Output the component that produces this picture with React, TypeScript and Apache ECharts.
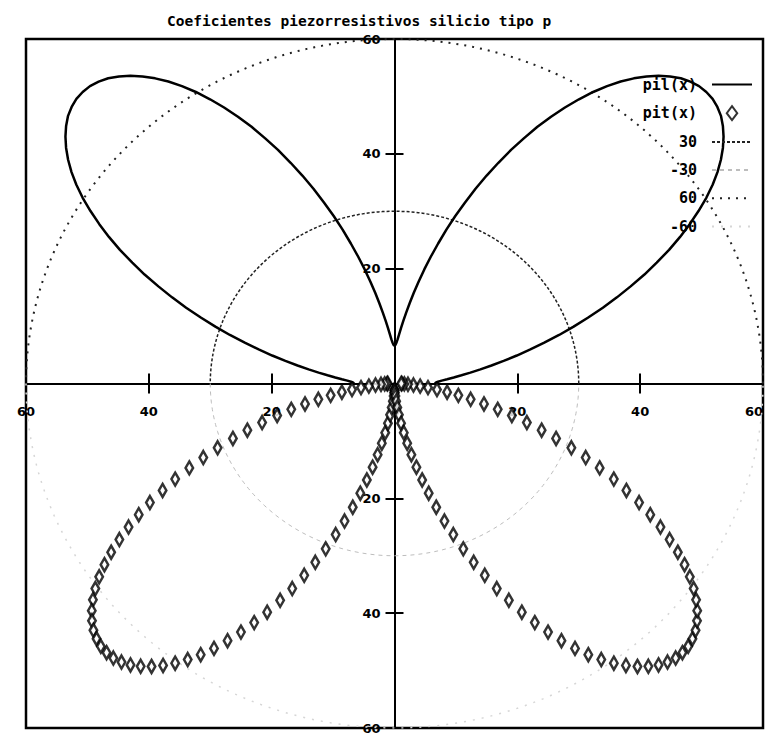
import React, { useEffect, useRef } from 'react';
import * as echarts from 'echarts';

const TITLE = 'Coeficientes piezorresistivos silicio tipo p';

// Angle x runs from 0° to 180° in steps of 1.25° (145 samples).
const ANGLE_STEP_DEG = 1.25;

// Longitudinal piezoresistive coefficient pil(x)
const PIL = [
  6.6, 6.7, 7.1, 7.7, 8.6, 9.7, 11.0, 12.5, 14.2, 16.1, 18.2, 20.5, 22.9, 25.4, 28.1, 30.8, 33.5, 36.4, 39.2,
  42.0, 44.9, 47.6, 50.4, 53.0, 55.5, 57.9, 60.2, 62.3, 64.2, 65.9, 67.4, 68.7, 69.8, 70.7, 71.3, 71.7, 71.8,
  71.7, 71.3, 70.7, 69.8, 68.7, 67.4, 65.9, 64.2, 62.3, 60.2, 57.9, 55.5, 53.0, 50.4, 47.6, 44.9, 42.0, 39.2,
  36.4, 33.5, 30.8, 28.1, 25.4, 22.9, 20.5, 18.2, 16.1, 14.2, 12.5, 11.0, 9.7, 8.6, 7.7, 7.1, 6.7, 6.6,
  6.7, 7.1, 7.7, 8.6, 9.7, 11.0, 12.5, 14.2, 16.1, 18.2, 20.5, 22.9, 25.4, 28.1, 30.8, 33.5, 36.4, 39.2,
  42.0, 44.9, 47.6, 50.4, 53.0, 55.5, 57.9, 60.2, 62.3, 64.2, 65.9, 67.4, 68.7, 69.8, 70.7, 71.3, 71.7, 71.8,
  71.7, 71.3, 70.7, 69.8, 68.7, 67.4, 65.9, 64.2, 62.3, 60.2, 57.9, 55.5, 53.0, 50.4, 47.6, 44.9, 42.0, 39.2,
  36.4, 33.5, 30.8, 28.1, 25.4, 22.9, 20.5, 18.2, 16.1, 14.2, 12.5, 11.0, 9.7, 8.6, 7.7, 7.1, 6.7, 6.6,
];

// Transverse piezoresistive coefficient pit(x)
const PIT = [
  -1.1, -1.2, -1.6, -2.2, -3.1, -4.2, -5.5, -7.0, -8.7, -10.6, -12.7, -15.0, -17.4, -19.9, -22.6, -25.3, -28.0, -30.9, -33.7,
  -36.5, -39.4, -42.1, -44.9, -47.5, -50.0, -52.4, -54.7, -56.8, -58.7, -60.4, -61.9, -63.2, -64.3, -65.2, -65.8, -66.2, -66.3,
  -66.2, -65.8, -65.2, -64.3, -63.2, -61.9, -60.4, -58.7, -56.8, -54.7, -52.4, -50.0, -47.5, -44.9, -42.1, -39.4, -36.5, -33.7,
  -30.9, -28.0, -25.3, -22.6, -19.9, -17.4, -15.0, -12.7, -10.6, -8.7, -7.0, -5.5, -4.2, -3.1, -2.2, -1.6, -1.2, -1.1,
  -1.2, -1.6, -2.2, -3.1, -4.2, -5.5, -7.0, -8.7, -10.6, -12.7, -15.0, -17.4, -19.9, -22.6, -25.3, -28.0, -30.9, -33.7,
  -36.5, -39.4, -42.1, -44.9, -47.5, -50.0, -52.4, -54.7, -56.8, -58.7, -60.4, -61.9, -63.2, -64.3, -65.2, -65.8, -66.2, -66.3,
  -66.2, -65.8, -65.2, -64.3, -63.2, -61.9, -60.4, -58.7, -56.8, -54.7, -52.4, -50.0, -47.5, -44.9, -42.1, -39.4, -36.5, -33.7,
  -30.9, -28.0, -25.3, -22.6, -19.9, -17.4, -15.0, -12.7, -10.6, -8.7, -7.0, -5.5, -4.2, -3.1, -2.2, -1.6, -1.2, -1.1,
];

// Constant reference radii, traced over the same angle range
const REF_RADII = [30, -30, 60, -60];
const REF_NAMES = ['30', '-30', '60', '-60'];

const AXIS_MIN = -60;
const AXIS_MAX = 60;
const AXIS_STEP = 20;

// plot frame in pixels
const FRAME = { left: 26, right: 3, top: 39, bottom: 9 };
const WIDTH = 766;
const HEIGHT = 737;

// polar (r, sample index) -> cartesian [x, y]
const toXY = (r: number, i: number): number[] => {
  const a = (i * ANGLE_STEP_DEG * Math.PI) / 180;
  return [r * Math.cos(a), r * Math.sin(a)];
};

const REF_STYLES = [
  { color: '#222', width: 1.5, type: [3, 2] },
  { color: '#bdbdbd', width: 1, type: [4, 4] },
  { color: '#222', width: 2, type: [2, 6] },
  { color: '#d6d6d6', width: 1.5, type: [2, 7] },
];

const DIAMOND = 'path://M4.5,0 L9,6 L4.5,12 L0,6 Z';

const absLabel = (v: number) => (v === 0 ? '' : String(Math.abs(v)));

const labelFont = {
  fontFamily: 'DejaVu Sans',
  fontWeight: 'bold' as const,
  fontSize: 13,
  color: '#000',
};

export default function App() {
  const ref = useRef<HTMLDivElement>(null);

  useEffect(() => {
    if (!ref.current) return;
    const chart = echarts.init(ref.current, undefined, { renderer: 'svg' });

    const pilData = PIL.map((r, i) => toXY(r, i));
    const pitData = PIT.map((r, i) => toXY(r, i));

    const refSeries = REF_RADII.map((radius, j) => ({
      name: REF_NAMES[j],
      type: 'line',
      data: PIL.map((_, i) => toXY(radius, i)),
      symbol: 'none',
      lineStyle: REF_STYLES[j],
      itemStyle: { color: REF_STYLES[j].color },
      z: 1,
    }));

    const axisCommon = {
      type: 'value',
      min: AXIS_MIN,
      max: AXIS_MAX,
      interval: AXIS_STEP,
      splitLine: { show: false },
    };
    const tickStyle = { color: '#000', width: 2 };

    // pixel position of the axis cross (value 0 on both axes)
    const zeroX = FRAME.left + (WIDTH - FRAME.left - FRAME.right) / 2;
    const zeroY = FRAME.top + (HEIGHT - FRAME.top - FRAME.bottom) / 2;

    const hiddenAxis = { ...axisCommon, show: false };

    chart.setOption({
      animation: false,
      backgroundColor: '#fff',
      title: {
        text: TITLE,
        left: 162,
        top: 8,
        textStyle: {
          fontFamily: 'DejaVu Sans Mono',
          fontWeight: 'bold',
          fontSize: 14.5,
          color: '#000',
        },
      },
      legend: {
        orient: 'vertical',
        right: 8,
        top: 72,
        align: 'right',
        itemWidth: 40,
        itemHeight: 14,
        itemGap: 13.2,
        selectedMode: false,
        data: [
          { name: 'pil(x)', itemStyle: { opacity: 0 } },
          { name: 'pit(x)' },
          ...REF_NAMES.map((n) => ({ name: n, itemStyle: { opacity: 0 } })),
        ],
        textStyle: {
          fontFamily: 'DejaVu Sans Mono',
          fontWeight: 'bold',
          fontSize: 15,
          color: '#000',
          padding: [0, 10, 0, 0],
        },
      },
      grid: [
        // main plotting frame
        { ...FRAME, show: true, borderColor: '#000', borderWidth: 2.5, containLabel: false, outerBoundsMode: 'none' },
        // frame whose bottom edge is the horizontal zero line (carries x labels)
        { left: FRAME.left, right: FRAME.right, top: FRAME.top, bottom: HEIGHT - zeroY, containLabel: false, outerBoundsMode: 'none' },
        // frame whose left edge is the vertical zero line (carries y labels)
        { left: zeroX, right: FRAME.right, top: FRAME.top, bottom: FRAME.bottom, containLabel: false, outerBoundsMode: 'none' },
      ],
      xAxis: [
        {
          ...axisCommon,
          gridIndex: 0,
          position: 'bottom',
          axisLine: { onZero: true, onZeroAxisIndex: 0, lineStyle: { color: '#000', width: 2 } },
          axisTick: { show: true, length: 10, lineStyle: tickStyle },
          axisLabel: { show: false },
        },
        {
          ...axisCommon,
          gridIndex: 0,
          position: 'top',
          axisLine: { show: false, onZero: true, onZeroAxisIndex: 0 },
          axisTick: { show: true, length: 10, lineStyle: tickStyle },
          axisLabel: { show: false },
        },
        {
          ...axisCommon,
          gridIndex: 1,
          position: 'bottom',
          axisLine: { show: false, onZero: false },
          axisTick: { show: false },
          axisLabel: { ...labelFont, margin: 21, formatter: absLabel, alignMaxLabel: 'right' },
        },
        { ...hiddenAxis, gridIndex: 2 },
      ],
      yAxis: [
        {
          ...axisCommon,
          gridIndex: 0,
          position: 'left',
          axisLine: { onZero: true, onZeroAxisIndex: 0, lineStyle: { color: '#000', width: 2 } },
          axisTick: { show: true, length: 9, lineStyle: tickStyle },
          axisLabel: { show: false },
        },
        {
          ...axisCommon,
          gridIndex: 0,
          position: 'right',
          axisLine: { show: false, onZero: true, onZeroAxisIndex: 0 },
          axisTick: { show: true, length: 9, lineStyle: tickStyle },
          axisLabel: { show: false },
        },
        { ...hiddenAxis, gridIndex: 1 },
        {
          ...axisCommon,
          gridIndex: 2,
          position: 'left',
          axisLine: { show: false, onZero: false },
          axisTick: { show: false },
          axisLabel: { ...labelFont, margin: 14, formatter: absLabel },
        },
      ],
      series: [
        {
          name: 'pil(x)',
          type: 'line',
          data: pilData,
          symbol: 'none',
          lineStyle: { color: '#000', width: 2.5 },
          itemStyle: { color: '#000' },
          z: 3,
        },
        {
          name: 'pit(x)',
          type: 'scatter',
          data: pitData,
          symbol: DIAMOND,
          symbolKeepAspect: true,
          symbolSize: [10, 13],
          itemStyle: { color: '#fff', borderColor: '#000', borderWidth: 2.6 },
          z: 4,
        },
        ...refSeries,
      ],
    });

    return () => chart.dispose();
  }, []);

  return (
    <div
      ref={ref}
      style={{ position: 'absolute', left: 0, top: 0, width: WIDTH, height: HEIGHT }}
    />
  );
}
